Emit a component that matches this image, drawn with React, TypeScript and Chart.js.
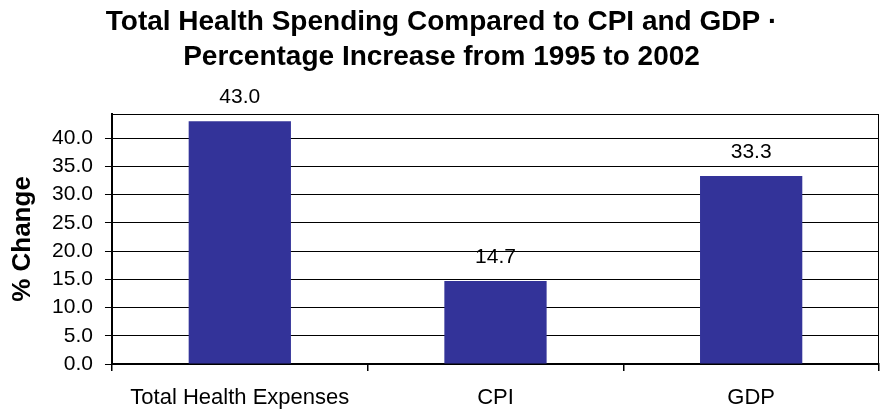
import React, { useEffect, useRef } from "react";
import { Chart, registerables } from "chart.js";

Chart.register(...registerables);

const titleLines = [
  "Total Health Spending Compared to CPI and GDP ·",
  "Percentage Increase from 1995 to 2002",
];
const categories = ["Total Health Expenses", "CPI", "GDP"];
const values = [43.0, 14.7, 33.3];
const yAxisTitle = "% Change";
const yMin = 0;
const yMax = 44.3;
const yStep = 5;

const FONT = "'Liberation Sans', Arial, sans-serif";

const frame = {
  id: "frame",
  afterDraw(chart: any) {
    const { ctx, chartArea } = chart;
    ctx.save();
    ctx.strokeStyle = "#000";
    ctx.lineWidth = 1;
    ctx.strokeRect(chartArea.left, chartArea.top + 0.5, chartArea.right - chartArea.left - 0.5, chartArea.bottom - chartArea.top);
    ctx.restore();
  },
};

const valueLabels = {
  id: "valueLabels",
  afterDatasetsDraw(chart: any) {
    const { ctx } = chart;
    const meta = chart.getDatasetMeta(0);
    ctx.save();
    ctx.fillStyle = "#000";
    ctx.font = `21px ${FONT}`;
    ctx.textAlign = "center";
    ctx.textBaseline = "middle";
    meta.data.forEach((bar: any, i: number) => {
      ctx.fillText(values[i].toFixed(1), bar.x, bar.y - 24);
    });
    ctx.restore();
  },
};

export default function App() {
  const ref = useRef<HTMLCanvasElement>(null);
  useEffect(() => {
    if (!ref.current) return;
    const chart = new Chart(ref.current, {
      type: "bar",
      data: {
        labels: categories,
        datasets: [
          {
            data: values,
            backgroundColor: "#333399",
            borderWidth: 0,
            barPercentage: 0.4,
            categoryPercentage: 1,
          },
        ],
      },
      options: {
        animation: false,
        responsive: false,
        devicePixelRatio: 1,
        layout: { padding: { left: 4, right: 2, top: 0, bottom: -14 } },
        plugins: {
          legend: { display: false },
          tooltip: { enabled: false },
          title: {
            display: true,
            text: titleLines,
            color: "#000",
            font: { family: FONT, size: 28, weight: "bold", lineHeight: 1.275 },
            padding: { top: 4, bottom: 38.6 },
          },
        },
        scales: {
          x: {
            grid: {
              offset: true,
              drawOnChartArea: false,
              drawTicks: true,
              tickLength: 7,
              color: "#000",
              tickColor: "#000",
              lineWidth: 1.5,
            },
            border: { display: true, color: "#000", width: 2 },
            ticks: {
              color: "#000",
              font: { family: FONT, size: 22 },
              padding: 13.3,
              maxRotation: 0,
              autoSkip: false,
            },
          },
          y: {
            min: yMin,
            max: yMax,
            afterBuildTicks: (scale: any) => {
              scale.ticks = scale.ticks.filter((t: any) => Math.abs(t.value / yStep - Math.round(t.value / yStep)) < 1e-6);
            },
            grid: {
              color: "#000",
              tickColor: "#000",
              lineWidth: 1,
              tickLength: 7,
            },
            border: { display: true, color: "#000", width: 2 },
            ticks: {
              stepSize: yStep,
              color: "#000",
              font: { family: FONT, size: 21 },
              padding: 12,
              callback: (v: any) => Number(v).toFixed(1),
            },
            title: {
              display: true,
              text: yAxisTitle,
              color: "#000",
              font: { family: FONT, size: 26, weight: "bold" },
              padding: { top: 3.4, bottom: 1.5 },
            },
          },
        },
      },
      plugins: [frame, valueLabels],
    });
    return () => chart.destroy();
  }, []);
  return (
    <div style={{ position: "fixed", left: 0, top: 0, width: 881, height: 410, background: "#fff" }}>
      <canvas ref={ref} width={881} height={410} style={{ display: "block" }} />
    </div>
  );
}
